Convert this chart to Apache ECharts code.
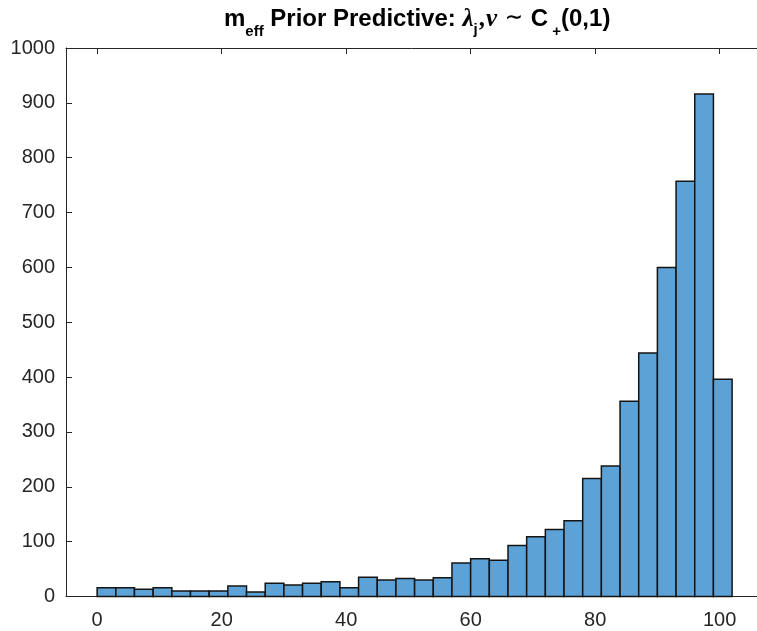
<!DOCTYPE html>
<html>
<head>
<meta charset="utf-8">
<script src="https://cdn.jsdelivr.net/npm/echarts@6/dist/echarts.min.js"></script>
<style>
  html, body { margin: 0; padding: 0; background: #fff; }
  #chart { width: 757px; height: 631px; }
</style>
</head>
<body>
<div id="chart"></div>
<script>
// histogram bins (left/right edges) and counts per bin
var binEdges = [0, 3, 6, 9, 12, 15, 18, 21, 24, 27, 30, 33, 36, 39, 42, 45, 48, 51,
                54, 57, 60, 63, 66, 69, 72, 75, 78, 81, 84, 87, 90, 93, 96, 99, 102];
var counts = [16, 16, 13, 16, 10, 10, 10, 19, 8, 24, 21, 24, 27, 16, 35, 30, 33,
              30, 34, 61, 69, 66, 93, 109, 122, 138, 215, 238, 356, 444, 600, 757, 916, 396];
var xTicks = [0, 20, 40, 60, 80, 100];

var axisColor = '#262626';
var barColor = '#5DA2D6';

var bins = [];
for (var i = 0; i < counts.length; i++) {
    bins.push([binEdges[i], binEdges[i + 1], counts[i]]);
}

var chart = echarts.init(document.getElementById('chart'));
var option = {
    backgroundColor: '#fff',
    animation: false,
    title: {
        left: 224,
        top: 7,
        padding: 0,
        text: '{b|m}{bs|eff}{b| Prior Predictive: }{g|λ}{gs|j}{g|,ν}{sim| ∼ }{b|C}{bs| +}{b|(0,1)}',
        textStyle: {
            rich: {
                b: { fontFamily: 'Liberation Sans', fontWeight: 'bold', fontSize: 24, lineHeight: 24, color: '#000', verticalAlign: 'top' },
                bs: { fontFamily: 'Liberation Sans', fontWeight: 'bold', fontSize: 15, lineHeight: 15, color: '#000', verticalAlign: 'top', padding: [17, 0, 0, 0] },
                g: { fontFamily: 'Liberation Serif', fontStyle: 'italic', fontSize: 25, lineHeight: 24, color: '#000', verticalAlign: 'top' },
                sim: { fontFamily: 'DejaVu Serif', fontSize: 22, lineHeight: 24, color: '#000', verticalAlign: 'top' },
                gs: { fontFamily: 'Liberation Sans', fontWeight: 'bold', fontSize: 15, lineHeight: 15, color: '#000', verticalAlign: 'top', padding: [15, 2, 0, 0] }
            }
        }
    },
    grid: {
        left: 66,
        right: 0,
        top: 48,
        bottom: 34.5,
        containLabel: false
    },
    xAxis: [
        {
            type: 'value',
            min: -5,
            max: 106,
            position: 'bottom',
            axisLine: { onZero: false, lineStyle: { color: axisColor, width: 1 } },
            axisTick: { inside: true, length: 6, customValues: xTicks, lineStyle: { color: axisColor } },
            axisLabel: {
                customValues: xTicks,
                margin: 14,
                fontFamily: 'Liberation Sans',
                fontSize: 20,
                color: axisColor
            },
            splitLine: { show: false }
        },
        {
            type: 'value',
            min: -5,
            max: 106,
            position: 'top',
            axisLine: { onZero: false, lineStyle: { color: axisColor, width: 1 } },
            axisTick: { inside: true, length: 6, customValues: xTicks, lineStyle: { color: axisColor } },
            axisLabel: { show: false },
            splitLine: { show: false }
        }
    ],
    yAxis: {
        type: 'value',
        min: 0,
        max: 1000,
        interval: 100,
        axisLine: { show: true, onZero: false, lineStyle: { color: axisColor, width: 1 } },
        axisTick: { show: true, inside: true, length: 6, lineStyle: { color: axisColor } },
        axisLabel: {
            margin: 11,
            fontFamily: 'Liberation Sans',
            fontSize: 20,
            color: axisColor,
            formatter: function (v) { return String(v); }
        },
        splitLine: { show: false }
    },
    series: [
        {
            type: 'custom',
            xAxisIndex: 0,
            renderItem: function (params, api) {
                var p0 = api.coord([api.value(0), api.value(2)]);
                var p1 = api.coord([api.value(1), 0]);
                return {
                    type: 'rect',
                    shape: { x: p0[0], y: p0[1], width: p1[0] - p0[0], height: p1[1] - p0[1] },
                    style: { fill: barColor, stroke: '#141414', lineWidth: 1.5 }
                };
            },
            encode: { x: [0, 1], y: 2 },
            data: bins
        }
    ]
};
chart.setOption(option);
</script>
</body>
</html>
